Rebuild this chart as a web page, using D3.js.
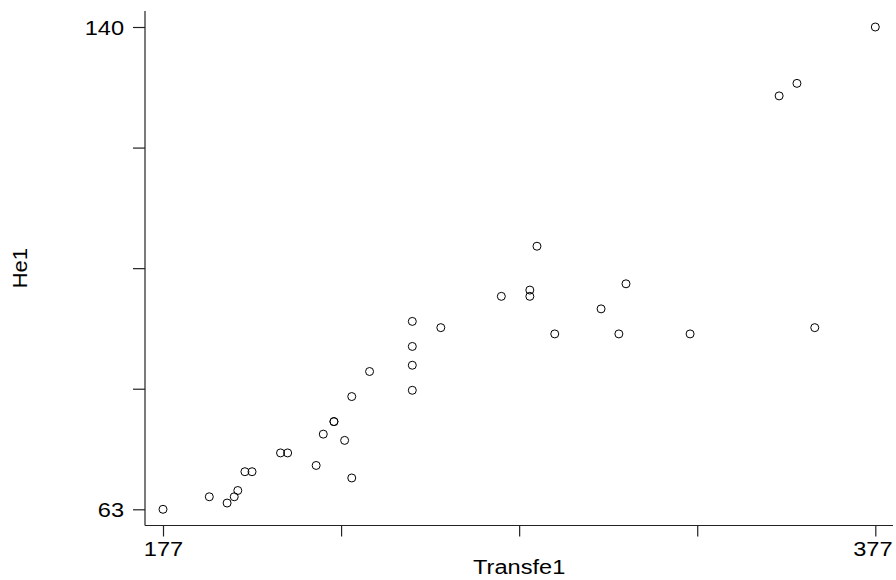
<!DOCTYPE html>
<html>
<head>
<meta charset="utf-8">
<script src="https://cdn.jsdelivr.net/npm/d3@7"></script>
<style>
  html, body { margin: 0; padding: 0; background: #fff; }
  svg { display: block; }
  text { font-family: "Liberation Sans", Arial, Helvetica, sans-serif; fill: #000; }
</style>
</head>
<body>
<svg id="chart" width="896" height="580"></svg>
<script>
// ---- data ----
const transfe1 = [177, 190, 195, 197, 198, 200, 202, 210, 212, 220, 222, 225, 225, 228, 230, 230, 235,
                  247, 247, 247, 247, 255, 272, 280, 280, 282, 287, 300, 305, 307, 325, 360, 350, 355, 377];
const he1      = [63, 65, 64, 65, 66, 69, 69, 72, 72, 70, 75, 77, 77, 74, 68, 81, 85,
                  82, 86, 89, 93, 92, 97, 98, 97, 105, 91, 95, 91, 99, 91, 92, 129, 131, 140];
const xTicks = [177, 227, 277, 327, 377];
const xTickLabels = ["177", "", "", "", "377"];
const yTicks = [63, 82.25, 101.5, 120.75, 140];
const yTickLabels = ["63", "", "", "", "140"];
const xTitle = "Transfe1";
const yTitle = "He1";

// ---- layout ----
const W = 896, H = 580;
const axisX = 145, axisY = 525.5, axisTop = 11, axisRight = 893;
const svg = d3.select("#chart");

const x = d3.scaleLinear().domain([177, 377]).range([163, 875.3]);
const y = d3.scaleLinear().domain([63, 140]).range([509.3, 27]);

const stretch = 1.18;
function widen(sel, k) {
  sel.each(function () {
    const len = this.getComputedTextLength();
    d3.select(this).attr("textLength", len * k).attr("lengthAdjust", "spacingAndGlyphs");
  });
}

// axis lines
svg.append("line").attr("x1", axisX).attr("x2", axisX).attr("y1", axisTop).attr("y2", axisY)
  .attr("stroke", "#222").attr("stroke-width", 1.2);
svg.append("line").attr("x1", axisX).attr("x2", axisRight).attr("y1", axisY).attr("y2", axisY)
  .attr("stroke", "#222").attr("stroke-width", 1.2);

// y axis ticks
const yAxis = d3.axisLeft(y).tickValues(yTicks).tickSize(12).tickPadding(9)
  .tickFormat((d, i) => yTickLabels[i]);
const gy = svg.append("g").attr("transform", `translate(${axisX},0)`).call(yAxis);
gy.select(".domain").remove();
gy.selectAll(".tick line").attr("stroke", "#222").attr("stroke-width", 1.2);
gy.selectAll(".tick text").style("font-size", "20px").attr("dy", "0.36em")
  .style("font-family", '"Liberation Sans", Arial, sans-serif').attr("fill", "#000");
widen(gy.selectAll(".tick text").filter(function () { return this.textContent !== ""; }), stretch);

// x axis ticks
const xAxis = d3.axisBottom(x).tickValues(xTicks).tickSize(11).tickPadding(5)
  .tickFormat((d, i) => xTickLabels[i]);
const gx = svg.append("g").attr("transform", `translate(0,${axisY})`).call(xAxis);
gx.select(".domain").remove();
gx.selectAll(".tick line").attr("stroke", "#222").attr("stroke-width", 1.2);
gx.selectAll(".tick text").style("font-size", "20px").attr("dy", "0.71em")
  .style("font-family", '"Liberation Sans", Arial, sans-serif').attr("fill", "#000");
widen(gx.selectAll(".tick text").filter(function () { return this.textContent !== ""; }), stretch);
// keep the last label inside the canvas
gx.selectAll(".tick").each(function (d) {
  const t = d3.select(this).select("text");
  if (t.text() === "") return;
  const w = +t.attr("textLength");
  const cx = x(d);
  const over = cx + w / 2 - (W - 4);
  if (over > 0) t.attr("x", -over);
});

// axis titles
const xt = svg.append("text").attr("x", x(277)).attr("y", 574).attr("text-anchor", "middle")
  .style("font-size", "20px").text(xTitle);
widen(xt, stretch);
const yt = svg.append("text").attr("transform", `translate(27,${y(101.5)}) rotate(-90)`)
  .attr("text-anchor", "middle").style("font-size", "20px").text(yTitle);
widen(yt, 1.1);

// points
svg.append("g").selectAll("circle").data(transfe1.map((v, i) => [v, he1[i]])).join("circle")
  .attr("cx", d => x(d[0])).attr("cy", d => y(d[1])).attr("r", 4)
  .attr("fill", "none").attr("stroke", "#000").attr("stroke-width", 1);
</script>
</body>
</html>
